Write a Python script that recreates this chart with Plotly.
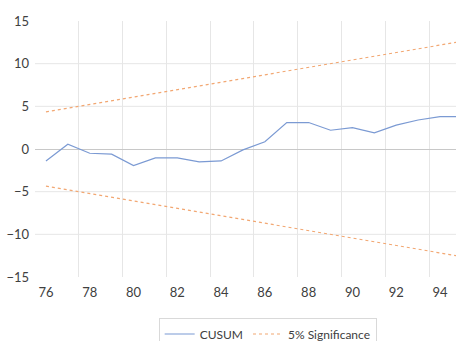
import plotly.graph_objects as go

years = list(range(76, 96))
cusum = [-1.4, 0.55, -0.5, -0.6, -1.95, -1.05, -1.05, -1.5, -1.4, -0.1,
         0.85, 3.1, 3.1, 2.2, 2.5, 1.9, 2.8, 3.4, 3.8, 3.8]
upper = [4.35, 4.78, 5.22, 5.65, 6.09, 6.52, 6.96, 7.39, 7.83, 8.26,
         8.70, 9.13, 9.57, 10.00, 10.44, 10.87, 11.31, 11.74, 12.18, 12.61]
lower = [-v for v in upper]
x_ticks = list(range(76, 96, 2))
y_ticks = [-15, -10, -5, 0, 5, 10, 15]
grid_y = [-10, -5, 5, 10]

FONT = "Lato"
TXT = "#404040"
GRID = "#e6e6e6"
ORANGE = "#f2a772"

fig = go.Figure()
fig.add_trace(go.Scatter(x=years, y=cusum, mode="lines", name="CUSUM",
                         line=dict(color="#7b9ad3", width=1.2)))
fig.add_trace(go.Scatter(x=years, y=upper, mode="lines", name="5% Significance",
                         line=dict(color=ORANGE, width=1.2, dash="dot")))
fig.add_trace(go.Scatter(x=years, y=lower, mode="lines", name="5% Significance",
                         showlegend=False,
                         line=dict(color=ORANGE, width=1.2, dash="dot")))

for gy in grid_y:
    fig.add_hline(y=gy, line=dict(color=GRID, width=1), layer="below")

fig.update_layout(
    width=456, height=341,
    margin=dict(l=35, r=0, t=21, b=64),
    paper_bgcolor="white", plot_bgcolor="white",
    font=dict(family=FONT, size=13, color=TXT),
    showlegend=True,
    legend=dict(orientation="h", xref="container", yref="container",
                x=0.587, xanchor="center", y=0.066, yanchor="top",
                bordercolor="#d9d9d9", borderwidth=1, bgcolor="white",
                font=dict(family=FONT, size=12, color=TXT),
                itemwidth=30, tracegroupgap=0),
    xaxis=dict(range=[75.5, 94.73], tickmode="array", tickvals=x_ticks,
               ticktext=[str(v) for v in x_ticks], automargin=False,
               showgrid=False, zeroline=False, showline=False, ticks="",
               ticklabelstandoff=6,
               minor=dict(tick0=77.5, dtick=2, showgrid=True, gridcolor=GRID, gridwidth=1)),
    yaxis=dict(range=[-15, 15], tickmode="array", tickvals=y_ticks, automargin=False,
               showgrid=False, zeroline=True, zerolinecolor="#c8c8c8", zerolinewidth=1,
               showline=False, ticks="", ticklabelstandoff=5),
)

fig.write_html("out.html", config={"displayModeBar": False},
               post_script="document.body.style.margin='0';")
